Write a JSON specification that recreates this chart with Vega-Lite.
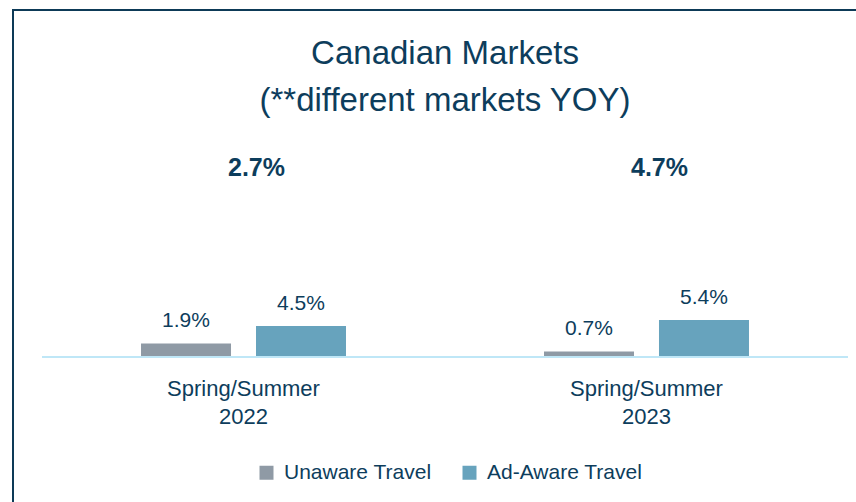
{
  "$schema": "https://vega.github.io/schema/vega-lite/v6.json",
  "width": 864,
  "height": 500,
  "autosize": {"type": "none"},
  "padding": {"left": 13, "top": 10, "right": 0, "bottom": 0},
  "background": "white",
  "config": {
    "view": {"stroke": "#0d3a57", "strokeWidth": 2},
    "font": "Liberation Sans, Arial, sans-serif"
  },
  "title": {
    "text": ["Canadian Markets", "(**different markets YOY)"],
    "fontSize": 33,
    "fontWeight": "normal",
    "lineHeight": 47,
    "color": "#0d3d5c",
    "anchor": "middle",
    "frame": "group",
    "baseline": "top",
    "offset": -26,
    "dy": 82
  },
  "datasets": {
    "bars": [
      {"period": "Spring/Summer 2022", "series": "Unaware Travel", "value": 1.9, "label": "1.9%"},
      {"period": "Spring/Summer 2022", "series": "Ad-Aware Travel", "value": 4.5, "label": "4.5%"},
      {"period": "Spring/Summer 2023", "series": "Unaware Travel", "value": 0.7, "label": "0.7%"},
      {"period": "Spring/Summer 2023", "series": "Ad-Aware Travel", "value": 5.4, "label": "5.4%"}
    ],
    "lift": [
      {"period": "Spring/Summer 2022", "lift": "2.7%"},
      {"period": "Spring/Summer 2023", "lift": "4.7%"}
    ]
  },
  "layer": [
    {
      "data": {"name": "bars"},
      "mark": {"type": "bar"},
      "encoding": {
        "x": {
          "field": "period",
          "type": "nominal",
          "scale": {"paddingInner": 0, "paddingOuter": 0.072},
          "axis": {
            "title": null,
            "orient": "bottom",
            "offset": -154,
            "domain": false,
            "ticks": false,
            "labelAngle": 0,
            "labelExpr": "split(datum.value, ' ')",
            "labelFontSize": 22,
            "labelLineHeight": 28,
            "labelPadding": 22,
            "labelColor": "#0d3d5c"
          }
        },
        "xOffset": {
          "field": "series",
          "type": "nominal",
          "sort": ["Unaware Travel", "Ad-Aware Travel"],
          "scale": {"paddingInner": 0.2174, "paddingOuter": 0.861}
        },
        "y": {
          "field": "value",
          "type": "quantitative",
          "scale": {"domain": [-23.09, 51.91], "nice": false, "zero": false},
          "axis": null
        },
        "color": {
          "field": "series",
          "type": "nominal",
          "sort": ["Unaware Travel", "Ad-Aware Travel"],
          "scale": {"domain": ["Unaware Travel", "Ad-Aware Travel"], "range": ["#8f9aa5", "#67a3bd"]},
          "legend": {
            "title": null,
            "orient": "none",
            "legendX": 243,
            "legendY": 452,
            "direction": "horizontal",
            "symbolType": "square",
            "symbolSize": 196,
            "symbolStrokeWidth": 0,
            "labelFontSize": 21,
            "labelLimit": 400,
            "labelColor": "#0d3d5c",
            "labelOffset": 7,
            "columnPadding": 27,
            "padding": 0
          }
        }
      }
    },
    {
      "data": {"name": "bars"},
      "mark": {"type": "text", "baseline": "alphabetic", "dy": -16, "fontSize": 21, "color": "#0d3d5c"},
      "encoding": {
        "x": {"field": "period", "type": "nominal"},
        "xOffset": {"field": "series", "type": "nominal", "sort": ["Unaware Travel", "Ad-Aware Travel"]},
        "y": {"field": "value", "type": "quantitative"},
        "text": {"field": "label"}
      }
    },
    {
      "data": {"name": "lift"},
      "mark": {"type": "rect", "color": "#bfe7f7"},
      "encoding": {
        "x": {"field": "period", "type": "nominal"},
        "y": {"datum": 0},
        "y2": {"datum": -0.3}
      }
    },
    {
      "data": {"name": "lift"},
      "mark": {"type": "text", "baseline": "alphabetic", "dx": 13, "fontSize": 25, "fontWeight": "bold", "color": "#0d3d5c"},
      "encoding": {
        "x": {"field": "period", "type": "nominal"},
        "y": {"datum": 27},
        "text": {"field": "lift"}
      }
    }
  ]
}
